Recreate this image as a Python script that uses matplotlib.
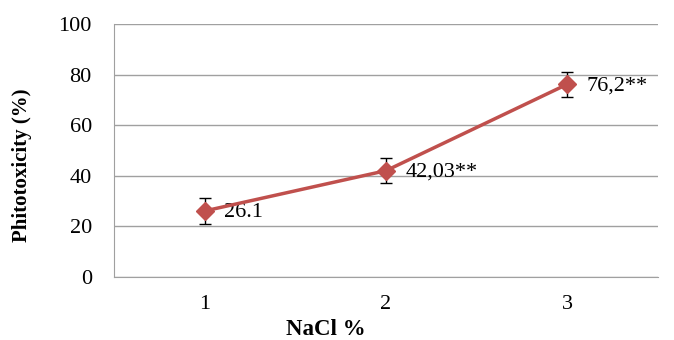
import matplotlib.pyplot as plt

plt.rcParams['font.family'] = ['Liberation Serif', 'DejaVu Serif']

# data
nacl = ['1', '2', '3']
toxicity = [26.1, 42.03, 76.2]
errors = [5, 5, 5]
labels = ['26.1', '42,03**', '76,2**']

fig = plt.figure(figsize=(6.74, 3.4), dpi=100)
ax = fig.add_axes([114 / 674, 63 / 340, 544 / 674, 253 / 340])

x = range(len(nacl))
ax.errorbar(x, toxicity, yerr=errors, color='#C0504D', lw=2.5,
            marker='D', markersize=9, ecolor='black', elinewidth=1,
            capsize=4, capthick=1, zorder=3)

for xi, yi, lab in zip(x, toxicity, labels):
    ax.annotate(lab, (xi, yi), xytext=(14, -1), textcoords='offset points',
                fontsize=16, va='center', ha='left')

ax.set_xlim(-0.5, 2.5)
ax.set_ylim(0, 100)
ax.set_xticks(list(x))
ax.set_xticklabels(nacl)
ax.set_yticks(range(0, 101, 20))
ax.tick_params(length=0, labelsize=16)
ax.tick_params(axis='x', pad=13)
ax.tick_params(axis='y', pad=16)
ax.grid(axis='y', color='#A0A0A0', lw=1)
ax.set_axisbelow(True)
for s in ['top', 'right']:
    ax.spines[s].set_visible(False)
for s in ['left', 'bottom']:
    ax.spines[s].set_color('#A0A0A0')

ax.set_ylabel('Phitotoxicity (%)', fontsize=15, fontweight='bold')
ax.yaxis.set_label_coords(-0.15, 0.44)
ax.set_xlabel('NaCl %', fontsize=16.5, fontweight='bold')
ax.xaxis.set_label_coords(0.39, -0.165)

fig.savefig('out.png', dpi=100)
